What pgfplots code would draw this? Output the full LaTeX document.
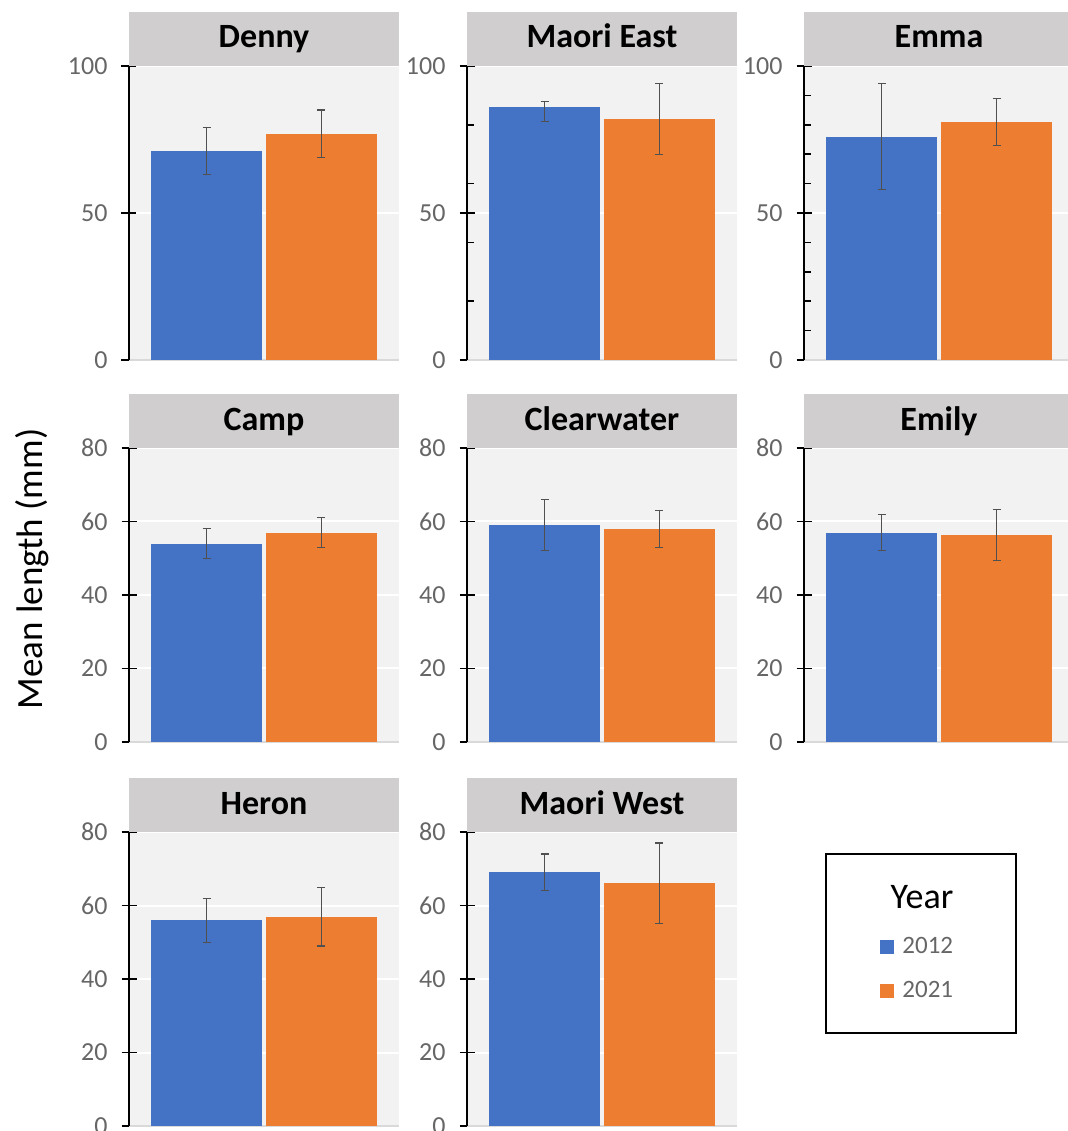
\documentclass[border=0pt]{standalone}
\usepackage{pgfplots}
\pgfplotsset{compat=1.18}
\usepackage{fontspec}
\setmainfont{Carlito}
\definecolor{blue12}{HTML}{4472C4}
\definecolor{orange21}{HTML}{ED7D31}
\definecolor{headgray}{HTML}{D0CECE}
\definecolor{bggray}{HTML}{F2F2F2}
\definecolor{errgray}{HTML}{505050}
\definecolor{ticklab}{HTML}{666666}
\definecolor{baseline}{HTML}{D9D9D9}
\pgfplotsset{
  panel/.style={
    scale only axis, width=135pt, height=147pt,
    xmin=0.326, xmax=2.674, ymin=0,
    axis lines=left, axis line style={-},
    x axis line style={draw=baseline, line width=0.6pt},
    y axis line style={draw=black, line width=0.75pt},
    axis background/.style={fill=bggray},
    xtick=\empty,
    tick align=center, major tick length=7.5pt, minor tick length=3.5pt,
    every tick/.style={black, line width=0.75pt},
    minor tick style={xshift=1.75pt},
    ymajorgrids, major grid style={white, line width=1pt},
    /pgf/number format/assume math mode=true,
    yticklabel style={font=\fontsize{13}{15}\selectfont, text=ticklab, xshift=-3.5pt},
    every axis title shift=0pt,
    title style={at={(0.5,1)}, anchor=south, yshift=0pt, fill=headgray,
      minimum width=135pt, minimum height=27pt, inner sep=0pt,
      text height=1.04em, text depth=0.1em,
      font=\bfseries\fontsize{17}{19}\selectfont},
  },
  top/.style={panel, ymax=100, ytick={0,50,100}},
  low/.style={panel, ymax=80, ytick={0,20,40,60,80}},
  errs/.style={
    error bars/y dir=both, error bars/y explicit,
    error bars/error bar style={errgray, line width=0.6pt},
    error bars/error mark options={rotate=90, errgray, mark size=2pt, line width=0.6pt}},
  b12/.style={ybar, bar shift=0pt, bar width=0.965, fill=blue12, draw=none, errs},
  o21/.style={ybar, bar shift=0pt, bar width=0.965, fill=orange21, draw=none, errs},
}
\begin{document}
\begin{tikzpicture}
\path[use as bounding box] (0,0) rectangle (533.5pt,565.5pt);

% Row 1
\begin{axis}[top, at={(64.5pt,385.5pt)}, title={Denny}]
\addplot[b12] coordinates {(1,71) +- (0,8)};
\addplot[o21] coordinates {(2,77) +- (0,8)};
\end{axis}
\begin{axis}[top, at={(233.5pt,385.5pt)}, title={Maori East}, minor ytick={20,40,60,80}]
\addplot[b12] coordinates {(1,86) += (0,2) -= (0,5)};
\addplot[o21] coordinates {(2,82) +- (0,12)};
\end{axis}
\begin{axis}[top, at={(402pt,385.5pt)}, title={Emma}, minor ytick={10,20,30,40,60,70,80,90}]
\addplot[b12] coordinates {(1,76) +- (0,18)};
\addplot[o21] coordinates {(2,81) +- (0,8)};
\end{axis}

% Row 2
\begin{axis}[low, at={(64.5pt,194.5pt)}, title={Camp}]
\addplot[b12] coordinates {(1,54) +- (0,4)};
\addplot[o21] coordinates {(2,57) +- (0,4)};
\end{axis}
\begin{axis}[low, at={(233.5pt,194.5pt)}, title={Clearwater}]
\addplot[b12] coordinates {(1,59) +- (0,7)};
\addplot[o21] coordinates {(2,58) +- (0,5)};
\end{axis}
\begin{axis}[low, at={(402pt,194.5pt)}, title={Emily}]
\addplot[b12] coordinates {(1,57) +- (0,5)};
\addplot[o21] coordinates {(2,56.3) +- (0,7)};
\end{axis}

% Row 3
\begin{axis}[low, at={(64.5pt,2.5pt)}, title={Heron}]
\addplot[b12] coordinates {(1,56) +- (0,6)};
\addplot[o21] coordinates {(2,57) +- (0,8)};
\end{axis}
\begin{axis}[low, at={(233.5pt,2.5pt)}, title={Maori West},
  legend style={at={(1.668,0.535)}, anchor=center, draw=none, fill=none,
    font=\fontsize{12.5}{14}\selectfont, text=ticklab, row sep=10.5pt,
    nodes={inner sep=1pt},
    /tikz/every odd column/.append style={column sep=3.5pt}},
  legend cell align=left]
\addplot[forget plot, b12] coordinates {(1,69) +- (0,5)};
\addplot[forget plot, o21] coordinates {(2,66) +- (0,11)};
\addlegendimage{legend image code/.code={\fill[blue12] (0pt,-3.25pt) rectangle (6.5pt,3.25pt);}}
\addlegendentry{2012}
\addlegendimage{legend image code/.code={\fill[orange21] (0pt,-3.25pt) rectangle (6.5pt,3.25pt);}}
\addlegendentry{2021}
\end{axis}

% Legend frame and title
\draw[line width=1pt] (413pt,49pt) rectangle (508pt,138.5pt);
\node[anchor=base, font=\fontsize{18}{21}\selectfont] at (461pt,111pt) {Year};

% Shared y label
\node[rotate=90, anchor=base, font=\fontsize{18.5}{22}\selectfont] at (21pt,281pt) {Mean length (mm)};
\end{tikzpicture}
\end{document}
